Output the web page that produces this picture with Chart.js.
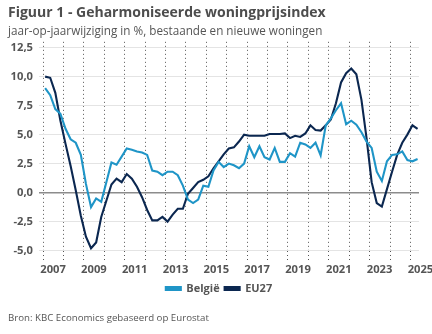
<!DOCTYPE html>
<html>
<head>
<meta charset="utf-8">
<script src="https://cdn.jsdelivr.net/npm/chart.js@4/dist/chart.umd.min.js"></script>
<style>
  html, body { margin: 0; padding: 0; background: #ffffff; }
  #wrap { position: relative; width: 432px; height: 334px; }
  #source {
    position: absolute; left: 8px; top: 311px;
    font-family: "Open Sans", sans-serif; font-size: 9.7px; color: #555555;
  }
</style>
</head>
<body>
<div id="wrap">
  <canvas id="chart" width="432" height="334"></canvas>
  <div id="source">Bron: KBC Economics gebaseerd op Eurostat</div>
</div>
<script>
  'use strict';

  // kwartaalreeks, 2007K1 t/m 2025K2
  const firstYear = 2007;
  const belgie = [
    9.0, 8.4, 7.2, 6.8, 5.5, 4.6, 4.3, 3.25, 0.75, -1.25, -0.5, -0.8, 0.9, 2.6, 2.4, 3.1, 3.8, 3.7, 3.55,
    3.45, 3.25, 1.9, 1.8, 1.5, 1.8, 1.8, 1.5, 0.6, -0.6, -0.9, -0.6, 0.6, 0.5, 1.9, 2.65, 2.2, 2.5, 2.35,
    2.1, 2.5, 4.0, 3.05, 4.0, 3.05, 2.85, 3.85, 2.65, 2.65, 3.4, 3.1, 4.3, 4.15, 3.85, 4.3, 3.2, 5.8, 6.4,
    7.1, 7.7, 5.9, 6.2, 5.85, 5.2, 4.4, 3.85, 1.8, 1.0, 2.7, 3.25, 3.3, 3.55, 2.8, 2.7, 2.9
  ];
  const eu27 = [
    10.0, 9.9, 8.6, 6.2, 4.2, 2.3, 0.2, -2.0, -3.8, -4.8, -4.3, -2.1, -0.7, 0.7, 1.2, 0.9, 1.6, 1.2, 0.5,
    -0.4, -1.5, -2.4, -2.4, -2.1, -2.5, -1.9, -1.4, -1.4, -0.1, 0.4, 0.9, 1.1, 1.4, 2.1, 2.7, 3.3, 3.8, 3.9,
    4.4, 5.0, 4.9, 4.9, 4.9, 4.9, 5.05, 5.05, 5.05, 5.1, 4.7, 4.9, 4.8, 5.1, 5.8, 5.4, 5.35, 5.8, 6.3,
    7.7, 9.5, 10.3, 10.7, 10.2, 8.0, 4.7, 0.9, -0.9, -1.2, 0.3, 1.8, 3.25, 4.3, 5.0, 5.8, 5.5
  ];
  const yearTicks = [2007, 2008, 2009, 2010, 2011, 2012, 2013, 2014, 2015, 2016,
    2017, 2018, 2019, 2020, 2021, 2022, 2023, 2024, 2025];
  const yearLabels = [2007, 2009, 2011, 2013, 2015, 2017, 2019, 2021, 2023, 2025];
  const yTicks = [-5, -2.5, 0, 2.5, 5, 7.5, 10, 12.5];

  const FONT = '"Open Sans", sans-serif';
  const TEXT = '#555555';
  const LIGHT = '#1f95c7';
  const DARK = '#0b2750';

  function quarterX(i) {
    return firstYear + i / 4 + 0.1;
  }

  function toPoints(values) {
    return values.map(function (v, i) {
      return { x: quarterX(i), y: v };
    });
  }

  const ctx = document.getElementById('chart').getContext('2d');
  new Chart(ctx, {
    type: 'line',
    data: {
      datasets: [
        {
          label: 'België',
          data: toPoints(belgie),
          borderColor: LIGHT,
          backgroundColor: LIGHT,
          borderWidth: 2.1,
          pointRadius: 0,
          tension: 0,
        },
        {
          label: 'EU27',
          data: toPoints(eu27),
          borderColor: DARK,
          backgroundColor: DARK,
          borderWidth: 2.1,
          pointRadius: 0,
          tension: 0,
        },
      ],
    },
    options: {
      responsive: false,
      animation: false,
      layout: { padding: { left: 8, right: 2, top: 0, bottom: 30 } },
      plugins: {
        title: {
          display: true,
          text: 'Figuur 1 - Geharmoniseerde woningprijsindex',
          align: 'start',
          color: '#4d4d4d',
          font: { family: FONT, size: 14, weight: 'bold' },
          padding: { top: 5, bottom: 3 },
        },
        subtitle: {
          display: true,
          text: 'jaar-op-jaarwijziging in %, bestaande en nieuwe woningen',
          align: 'start',
          color: TEXT,
          font: { family: FONT, size: 11.7 },
          padding: { top: 0, bottom: 3 },
        },
        legend: {
          position: 'bottom',
          labels: {
            boxWidth: 15,
            boxHeight: 3,
            padding: 5,
            color: TEXT,
            font: { family: FONT, size: 11, weight: 'bold' },
          },
        },
        tooltip: { enabled: false },
      },
      scales: {
        x: {
          type: 'linear',
          min: 2006.8,
          max: 2025.42,
          afterBuildTicks: function (scale) {
            scale.ticks = yearTicks.map(function (v) { return { value: v }; });
          },
          afterFit: function (scale) {
            // ruimte voor het verschoven label 2025
            scale.paddingRight = 13;
          },
          ticks: {
            autoSkip: false,
            maxRotation: 0,
            labelOffset: 10,
            padding: 1,
            color: TEXT,
            font: { family: FONT, size: 11.2, weight: 'bold' },
            callback: function (v) {
              return yearLabels.indexOf(v) >= 0 ? String(v) : '';
            },
          },
          grid: {
            color: '#555555',
            lineWidth: 1,
            drawTicks: true,
            tickLength: 12,
            tickColor: '#555555',
            tickBorderDash: [1, 3],
          },
          border: { display: false, dash: [1, 3] },
        },
        y: {
          min: -5,
          max: 13,
          afterBuildTicks: function (scale) {
            scale.ticks = yTicks.map(function (v) { return { value: v }; });
          },
          afterFit: function (scale) {
            scale.width = 31;
          },
          ticks: {
            padding: 6,
            color: TEXT,
            font: { family: FONT, size: 11.2, weight: 'bold' },
            callback: function (v) {
              return v.toFixed(1).replace('.', ',');
            },
          },
          grid: {
            drawTicks: false,
            color: function (c) { return c.tick && c.tick.value === 0 ? '#8c8c8c' : '#e4e4e4'; },
            lineWidth: function (c) { return c.tick && c.tick.value === 0 ? 1.5 : 1; },
          },
          border: { display: false },
        },
      },
    },
  });
</script>
</body>
</html>
